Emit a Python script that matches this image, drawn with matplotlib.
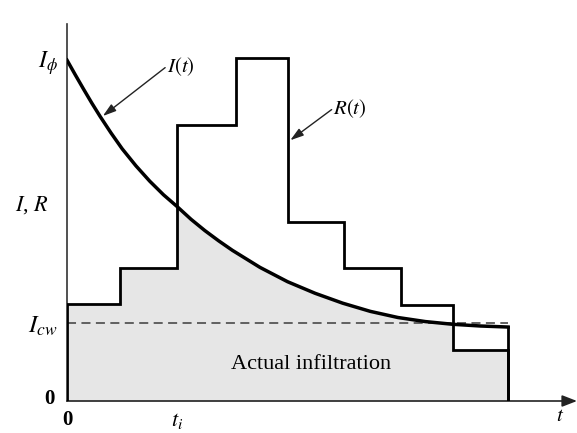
import numpy as np
import matplotlib
matplotlib.use('Agg')
import matplotlib.pyplot as plt

plt.rcParams['mathtext.fontset'] = 'stix'
plt.rcParams['font.family'] = ['Liberation Serif', 'DejaVu Serif']

# rainfall hyetograph R(t): step edges and heights
r_edges = np.array([0, 0.96, 2.0, 3.07, 4.01, 5.03, 6.06, 7.0, 8.0])
r_values = np.array([2.84, 3.90, 8.09, 10.06, 5.25, 3.90, 2.82, 1.50])

# infiltration capacity curve I(t)
t_curve = np.array([0, 0.15, 0.3, 0.45, 0.6, 0.8, 1.0, 1.25, 1.5, 1.75, 2.0, 2.25,
                    2.5, 2.75, 3.0, 3.5, 4.0, 4.5, 5.0, 5.5, 6.0, 6.5, 7.0, 7.5, 8.0])
i_curve = np.array([10.0, 9.57, 9.15, 8.74, 8.35, 7.86, 7.4, 6.9, 6.45, 6.05, 5.7, 5.33,
                    5.0, 4.7, 4.42, 3.92, 3.5, 3.16, 2.87, 2.63, 2.45, 2.33, 2.25, 2.2, 2.17])

i_cw = 2.29
t_i = 2.0

fig = plt.figure(figsize=(5.77, 4.33), dpi=100)
ax = fig.add_axes([67 / 577, 32 / 433, 510 / 577, 377 / 433])
ax.set_xlim(0, 9.25)
ax.set_ylim(0, 11.06)
ax.set_xticks([])
ax.set_yticks([])
for s in ['top', 'right', 'bottom']:
    ax.spines[s].set_visible(False)
ax.spines['left'].set_color('#333333')
ax.spines['left'].set_linewidth(1.2)

# x axis with arrow
ax.annotate('', xy=(9.25, 0), xytext=(0, 0), annotation_clip=False,
            arrowprops=dict(arrowstyle='-|>,head_length=0.9,head_width=0.35',
                            color='#222222', lw=1.2, shrinkA=0, shrinkB=0))

# shaded actual infiltration = min(R, I)
inner = r_edges[1:-1]
tt = np.sort(np.concatenate([t_curve, inner - 1e-6, inner + 1e-6]))
ii = np.interp(tt, t_curve, i_curve)
idx = np.clip(np.searchsorted(r_edges, tt, side='right') - 1, 0, len(r_values) - 1)
rr = r_values[idx]
ax.fill_between(tt, 0, np.minimum(ii, rr), color='#e6e6e6', lw=0, zorder=1)

ax.plot([0, t_curve[-1]], [i_cw, i_cw], color='#555555', lw=1.3,
        dashes=(5, 3), zorder=2)

ax.stairs(r_values, r_edges, baseline=0, color='black', lw=2.0, zorder=3)
ax.plot(t_curve, i_curve, color='black', lw=2.5, zorder=4, solid_joinstyle='round')
ax.plot([t_curve[-1], t_curve[-1]], [i_curve[-1], 0], color='black', lw=2.0, zorder=4)

ax.text(1.81, 9.82, '$I(t)$', fontsize=15, ha='left', va='center')
ax.annotate('', xy=(0.65, 8.36), xytext=(1.78, 9.78),
            arrowprops=dict(arrowstyle='-|>,head_length=0.8,head_width=0.25',
                            color='#222222', lw=1.0, shrinkA=0, shrinkB=0))
ax.text(4.83, 8.59, '$R(t)$', fontsize=15, ha='left', va='center')
ax.annotate('', xy=(4.05, 7.65), xytext=(4.8, 8.55),
            arrowprops=dict(arrowstyle='-|>,head_length=0.8,head_width=0.25',
                            color='#222222', lw=1.0, shrinkA=0, shrinkB=0))

ax.text(-0.17, 9.9, r'$I_\phi$', fontsize=17, ha='right', va='center', clip_on=False)
ax.text(-0.64, 5.75, '$I$, $R$', fontsize=16, ha='center', va='center', clip_on=False)
ax.text(-0.17, 2.2, '$I_{cw}$', fontsize=18, ha='right', va='center', clip_on=False)
ax.text(-0.31, 0.05, '0', fontsize=15, ha='center', va='center', fontweight='bold', clip_on=False)
ax.text(0, -0.55, '0', fontsize=15, ha='center', va='center', fontweight='bold', clip_on=False)
ax.text(t_i, -0.6, '$t_i$', fontsize=16, ha='center', va='center', clip_on=False)
ax.text(8.95, -0.45, '$t$', fontsize=15, ha='center', va='center', clip_on=False)

ax.text(4.43, 1.06, 'Actual infiltration', fontsize=16, ha='center', va='center')

fig.savefig('out.png', dpi=100)
